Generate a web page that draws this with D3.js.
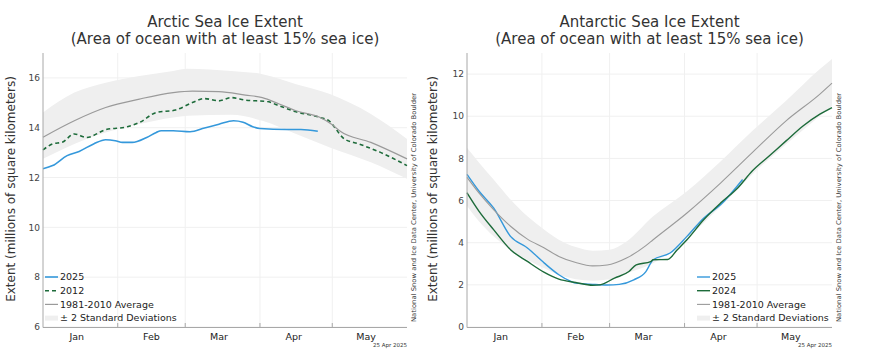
<!DOCTYPE html>
<html>
<head>
<meta charset="utf-8">
<script src="https://cdn.jsdelivr.net/npm/d3@7"></script>
<style>
  body { margin: 0; background: #fff; }
  svg { display: block; font-family: "DejaVu Sans", sans-serif; }
</style>
</head>
<body>
<svg id="chart" width="880" height="364"></svg>
<script>
// day index: 0 = 1 Jan, 151 = 1 Jun
const monthStarts = [0, 31, 59, 90, 120];
const monthMids = [14, 45, 73, 104, 134];
const monthNames = ['Jan', 'Feb', 'Mar', 'Apr', 'May'];

// Arctic (millions of km²)
const arcticTicks = [6, 8, 10, 12, 14, 16];
const arctic2025 = [[0,12.35],[4,12.48],[10,12.88],[15,13.05],[21,13.35],[26,13.52],[30,13.48],[33,13.41],[37,13.41],[43,13.61],[47,13.81],[49,13.88],[54,13.88],[61,13.84],[67,13.99],[73,14.14],[79,14.28],[83,14.22],[87,14.04],[90,13.97],[101,13.93],[107,13.93],[114,13.86]];
const arctic2012 = [[0,13.11],[4,13.35],[8,13.42],[13,13.75],[18,13.61],[26,13.92],[35,14.04],[40,14.21],[47,14.61],[55,14.71],[62,15.01],[67,15.17],[73,15.08],[78,15.21],[84,15.11],[93,15.05],[98,14.88],[105,14.64],[115,14.41],[119,14.25],[121,14.01],[125,13.55],[131,13.35],[140,13.01],[151,12.48]];
const arcticAvg = [[0,13.62],[13,14.28],[26,14.81],[40,15.15],[54,15.41],[62,15.47],[73,15.45],[84,15.31],[91,15.21],[98,14.95],[105,14.68],[115,14.41],[120,14.12],[123,13.88],[136,13.41],[151,12.75]];
const arcticBand = [[0,12.75,14.61],[13,13.35,15.41],[26,13.81,15.81],[40,14.15,16.08],[54,14.41,16.28],[60,14.48,16.37],[78,14.52,16.28],[91,14.28,16.15],[105,13.75,15.75],[119,13.21,15.35],[136,12.61,14.55],[151,11.95,13.55]];

// Antarctic (millions of km²)
const antarcticTicks = [0, 2, 4, 6, 8, 10, 12];
const antarctic2025 = [[0,7.24],[5,6.44],[11,5.65],[18,4.30],[25,3.75],[32,3.03],[38,2.48],[43,2.16],[45,2.08],[52,2.02],[58,1.99],[63,2.02],[69,2.24],[74,2.63],[76,3.03],[77,3.19],[84,3.51],[91,4.30],[98,5.17],[105,5.81],[114,7.0]];
const antarctic2024 = [[0,6.37],[5,5.49],[11,4.62],[18,3.67],[25,3.11],[32,2.59],[38,2.27],[45,2.11],[52,1.98],[55,2.0],[61,2.32],[67,2.63],[70,2.95],[76,3.10],[77,3.19],[83,3.20],[87,3.67],[91,4.14],[98,5.10],[105,5.89],[112,6.60],[118,7.40],[125,8.11],[132,8.83],[139,9.54],[146,10.10],[151,10.41]];
const antarcticAvg = [[0,7.1],[5,6.35],[11,5.57],[18,4.78],[25,4.17],[32,3.75],[38,3.35],[45,3.06],[52,2.90],[58,2.94],[66,3.27],[74,3.86],[77,4.14],[91,5.41],[105,6.84],[118,8.27],[132,9.78],[146,11.05],[151,11.57]];
const antarcticBand = [[0,5.75,8.5],[5,5.0,7.79],[11,4.30,7.0],[18,3.67,6.05],[25,3.19,5.25],[32,2.79,4.62],[38,2.48,4.14],[45,2.27,3.79],[52,2.20,3.62],[59,2.27,3.67],[66,2.56,4.06],[77,3.03,5.25],[91,4.22,6.44],[105,5.73,7.87],[118,7.24,9.30],[132,8.67,10.73],[146,10.01,12.24],[151,10.49,12.71]];

const colors = {
    blue: '#3498db',
    green: '#1d6b3a',
    avg: '#9a9a9a',
    band: '#efefef',
    grid: '#f0f0f0',
    axis: '#a8a8a8',
    text: '#333',
};

const svg = d3.select('#chart');

function drawPanel(cfg) {
    const x = d3.scaleLinear().domain([0, 151]).range([cfg.x0, cfg.x1]);
    const y = d3.scaleLinear().domain(cfg.yDomain).range([327, 53]);
    const g = svg.append('g');

    // grid
    g.selectAll('.hgrid')
        .data(cfg.ticks)
        .enter()
        .append('line')
        .attr('x1', cfg.x0).attr('x2', cfg.x1)
        .attr('y1', (d) => y(d)).attr('y2', (d) => y(d))
        .attr('stroke', colors.grid);
    g.selectAll('.vgrid')
        .data(monthStarts.slice(1))
        .enter()
        .append('line')
        .attr('x1', (d) => x(d)).attr('x2', (d) => x(d))
        .attr('y1', y.range()[1]).attr('y2', y.range()[0])
        .attr('stroke', colors.grid);

    // +- 2 std band
    const area = d3.area()
        .x((d) => x(d[0]))
        .y0((d) => y(d[1]))
        .y1((d) => y(d[2]))
        .curve(d3.curveMonotoneX);
    g.append('path').datum(cfg.band)
        .attr('d', area)
        .attr('fill', colors.band);

    const line = d3.line()
        .x((d) => x(d[0]))
        .y((d) => y(d[1]))
        .curve(d3.curveMonotoneX);

    cfg.series.forEach((s) => {
        g.append('path').datum(s.data)
            .attr('d', line)
            .attr('fill', 'none')
            .attr('stroke', s.color)
            .attr('stroke-width', s.width)
            .attr('stroke-dasharray', s.dash || null);
    });

    // axes
    g.append('line')
        .attr('x1', cfg.x0).attr('x2', cfg.x0)
        .attr('y1', 53).attr('y2', 327.5)
        .attr('stroke', colors.axis);
    g.append('line')
        .attr('x1', cfg.x0).attr('x2', cfg.x1)
        .attr('y1', 327.5).attr('y2', 327.5)
        .attr('stroke', colors.axis);

    g.selectAll('.ytick')
        .data(cfg.ticks)
        .enter()
        .append('text')
        .attr('x', cfg.x0 - 3)
        .attr('y', (d) => y(d))
        .attr('dy', '0.35em')
        .attr('text-anchor', 'end')
        .style('font-size', '9px')
        .attr('fill', '#444')
        .text((d) => d);

    g.selectAll('.xtick')
        .data(monthStarts.slice(1))
        .enter()
        .append('line')
        .attr('x1', (d) => x(d)).attr('x2', (d) => x(d))
        .attr('y1', 327).attr('y2', 323)
        .attr('stroke', colors.axis);

    g.selectAll('.month')
        .data(monthMids)
        .enter()
        .append('text')
        .attr('x', (d) => x(d))
        .attr('y', 340)
        .attr('text-anchor', 'middle')
        .style('font-size', '9.5px')
        .attr('fill', '#222')
        .text((d, i) => monthNames[i]);

    // titles
    const cx = (cfg.x0 + cfg.x1) / 2;
    g.append('text')
        .attr('x', cx).attr('y', 27)
        .attr('text-anchor', 'middle')
        .style('font-size', '15px')
        .attr('fill', colors.text)
        .text(cfg.title);
    g.append('text')
        .attr('x', cx).attr('y', 44)
        .attr('text-anchor', 'middle')
        .style('font-size', '15px')
        .attr('fill', colors.text)
        .text('(Area of ocean with at least 15% sea ice)');

    g.append('text')
        .attr('transform', `translate(${cfg.labelX}, 189) rotate(-90)`)
        .attr('text-anchor', 'middle')
        .attr('dy', '0.35em')
        .style('font-size', '12px')
        .attr('fill', colors.text)
        .text('Extent (millions of square kilometers)');

    g.append('text')
        .attr('transform', `translate(${cfg.x1 + 9}, 322) rotate(-90)`)
        .attr('text-anchor', 'start')
        .style('font-size', '6.5px')
        .attr('fill', colors.text)
        .attr('textLength', 229)
        .attr('lengthAdjust', 'spacingAndGlyphs')
        .text('National Snow and Ice Data Center, University of Colorado Boulder');

    g.append('text')
        .attr('x', cfg.x1).attr('y', 347)
        .attr('text-anchor', 'end')
        .style('font-size', '5.5px')
        .attr('fill', colors.text)
        .text('25 Apr 2025');

    // legend
    const items = cfg.series.map((s) => ({label: s.label, color: s.color, width: s.width, dash: s.dash}))
        .concat([{label: '\u00b1 2 Standard Deviations', color: colors.band, width: 5}]);
    const lg = g.append('g').attr('transform', `translate(${cfg.legendX}, 277)`);
    items.forEach((it, i) => {
        const row = lg.append('g').attr('transform', `translate(0, ${i * 13.7})`);
        row.append('line')
            .attr('x1', 0).attr('x2', 13)
            .attr('y1', 0).attr('y2', 0)
            .attr('stroke', it.color)
            .attr('stroke-width', it.width)
            .attr('stroke-dasharray', it.dash || null);
        row.append('text')
            .attr('x', 15).attr('y', 0)
            .attr('dy', '0.35em')
            .style('font-size', '9.5px')
            .attr('fill', '#222')
            .text(it.label);
    });
}

drawPanel({
    x0: 43, x1: 407,
    yDomain: [6, 17],
    ticks: arcticTicks,
    title: 'Arctic Sea Ice Extent',
    labelX: 11,
    legendX: 45,
    band: arcticBand,
    series: [
        {label: '2025', data: arctic2025, color: colors.blue, width: 1.6},
        {label: '2012', data: arctic2012, color: colors.green, width: 1.6, dash: '4,3'},
        {label: '1981-2010 Average', data: arcticAvg, color: colors.avg, width: 1.2},
    ],
});

drawPanel({
    x0: 467, x1: 832,
    yDomain: [0, 13],
    ticks: antarcticTicks,
    title: 'Antarctic Sea Ice Extent',
    labelX: 433,
    legendX: 697,
    band: antarcticBand,
    series: [
        {label: '2025', data: antarctic2025, color: colors.blue, width: 1.4},
        {label: '2024', data: antarctic2024, color: colors.green, width: 1.4},
        {label: '1981-2010 Average', data: antarcticAvg, color: colors.avg, width: 1.1},
    ],
});
</script>
</body>
</html>
